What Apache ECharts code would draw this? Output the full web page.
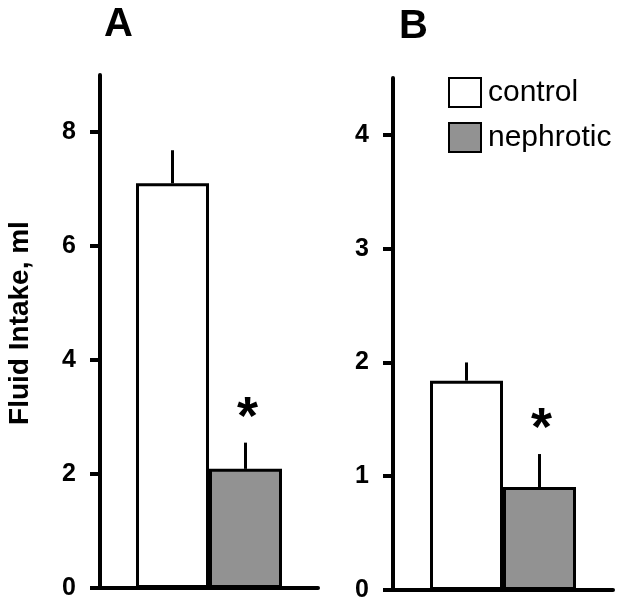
<!DOCTYPE html>
<html>
<head>
<meta charset="utf-8">
<script src="https://cdn.jsdelivr.net/npm/echarts@6/dist/echarts.min.js"></script>
<style>html,body{margin:0;padding:0;background:#fff;}#c{width:624px;height:610px;}</style>
</head>
<body>
<div id="c"></div>
<script>
// Data
const groups = ['control', 'nephrotic'];
const panelTitles = ['A', 'B'];
const meansA = [7.1, 2.09];
const errA = [0.58, 0.46];
const starsA = ['', '*'];
const meansB = [1.84, 0.905];
const errB = [0.16, 0.29];
const starsB = ['', '*'];
const ticksA = [0, 2, 4, 6, 8];
const ticksB = [0, 1, 2, 3, 4];
const yName = 'Fluid Intake, ml';

const chart = echarts.init(document.getElementById('c'), null, {renderer: 'canvas'});
const BW = 73;
const FONT = 'Liberation Sans, Arial, sans-serif';

function yAxis(idx, max, interval, ticks) {
  return {
    type: 'value', gridIndex: idx, min: 0, max: max, interval: interval,
    axisLine: {show: true, lineStyle: {color: '#000', width: 4}},
    axisTick: {show: true, length: 10, lineStyle: {color: '#000', width: 4}, customValues: ticks},
    axisLabel: {show: true, margin: 24, fontFamily: FONT, fontWeight: 'bold', fontSize: 25, color: '#000', customValues: ticks},
    splitLine: {show: false}
  };
}
function xAxis(idx) {
  return {
    type: 'category', gridIndex: idx, data: [''],
    axisLine: {show: true, lineStyle: {color: '#000', width: 4}},
    axisTick: {show: false}, axisLabel: {show: false}, splitLine: {show: false}
  };
}
const styles = [
  {color: '#ffffff', borderColor: '#000', borderWidth: 3},
  {color: '#929292', borderColor: '#000', borderWidth: 3}
];
function bars(idx, means) {
  return groups.map((g, i) => ({
    type: 'bar', name: g, xAxisIndex: idx, yAxisIndex: idx,
    data: [means[i]], barWidth: BW, barGap: '0%',
    itemStyle: styles[i], emphasis: {disabled: true}, animation: false
  }));
}
function errs(idx, means, errv, stars) {
  return {
    type: 'custom', xAxisIndex: idx, yAxisIndex: idx, animation: false, silent: true,
    data: means.map((m, i) => [0, m, errv[i], i]),
    renderItem: function (params, api) {
      const m = api.value(1), e = api.value(2), i = api.value(3);
      const star = stars[i];
      const p0 = api.coord([0, m]);
      const p1 = api.coord([0, m + e]);
      const x = p0[0] + (i === 0 ? -BW / 2 : BW / 2);
      const children = [{
        type: 'line', shape: {x1: x, y1: p0[1], x2: x, y2: p1[1]},
        style: {stroke: '#000', lineWidth: 3}
      }];
      if (star) {
        children.push({
          type: 'text', x: x + 2, y: p1[1] - 24,
          style: {text: star, fill: '#000', font: 'bold 54px ' + FONT, textAlign: 'center', textVerticalAlign: 'middle'}
        });
      }
      return {type: 'group', children: children};
    }
  };
}

const option = {
  backgroundColor: '#fff',
  animation: false,
  title: [
    {text: panelTitles[0], left: 104, top: 5, padding: 0, textStyle: {fontFamily: FONT, fontWeight: 'bold', fontSize: 40, color: '#000'}},
    {text: panelTitles[1], left: 399, top: 7, padding: 0, textStyle: {fontFamily: FONT, fontWeight: 'bold', fontSize: 40, color: '#000'}}
  ],
  graphic: [{
    type: 'text', x: 20, y: 323, rotation: Math.PI / 2,
    style: {text: yName, fill: '#000', font: 'bold 28px ' + FONT, textAlign: 'center', textVerticalAlign: 'middle'}
  }],
  legend: {
    data: groups, orient: 'vertical', left: 448, top: 77, padding: 0,
    itemWidth: 32, itemHeight: 29, itemGap: 14, icon: 'rect',
    textStyle: {fontFamily: FONT, fontSize: 30, color: '#000', padding: [0, 0, 0, 2]},
    selectedMode: false
  },
  grid: [
    {left: 100, width: 218, top: 75, height: 513},
    {left: 393, width: 220, top: 78, height: 512}
  ],
  xAxis: [xAxis(0), xAxis(1)],
  yAxis: [yAxis(0, 9, 2, ticksA), yAxis(1, 4.5, 1, ticksB)],
  series: [].concat(bars(0, meansA), bars(1, meansB), [errs(0, meansA, errA, starsA), errs(1, meansB, errB, starsB)])
};
chart.setOption(option);
</script>
</body>
</html>
